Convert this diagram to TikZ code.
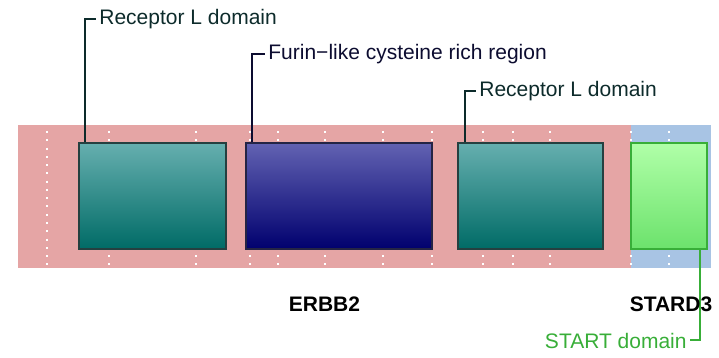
\documentclass[tikz,border=0pt]{standalone}
\usepackage{fontspec}
\setmainfont{Liberation Sans}
\definecolor{bandpink}{HTML}{E5A5A5}
\definecolor{bandblue}{HTML}{A8C4E4}
\definecolor{tealtop}{HTML}{66AFAF}
\definecolor{tealbot}{HTML}{006B66}
\definecolor{tealdark}{HTML}{0D2B2B}
\definecolor{navytop}{HTML}{6262B2}
\definecolor{navybot}{HTML}{00006E}
\definecolor{navydark}{HTML}{0C0C30}
\definecolor{greentop}{HTML}{B0FFA8}
\definecolor{greenbot}{HTML}{6CE26C}
\definecolor{greenline}{HTML}{38AE38}
\begin{document}
\begin{tikzpicture}[x=0.5pt, y=-0.5pt,
   every node/.style={font=\fontsize{10.5}{12}\selectfont, inner sep=1.5pt},
   dombox/.style={draw, line width=1pt, minimum height=53pt, inner sep=0pt},
   tealbox/.style={dombox, draw=tealdark!90, top color=tealtop, bottom color=tealbot},
   navybox/.style={dombox, draw=navydark!90, top color=navytop, bottom color=navybot},
   greenbox/.style={dombox, draw=greenline, top color=greentop, bottom color=greenbot},
   leader/.style={line width=1pt},
   gridline/.style={white, line width=1pt, dash pattern=on 1pt off 3.135pt},
   genelabel/.style={font=\fontsize{10.5}{12}\selectfont\bfseries}]
\useasboundingbox (0,0) rectangle (719,358);
% gene bands
\fill[bandpink] (18,125) rectangle (631,268);
\fill[bandblue] (631,125) rectangle (711,268);
\foreach \x in {47,109,196,250,278,325,383,432,483,513,550,631,669}
  \draw[gridline] (\x,131) -- (\x,266);
% domains
\node[tealbox, minimum width=73.5pt] (rl1) at (152.5,196) {};
\node[navybox, minimum width=93pt]   (fur) at (339,196) {};
\node[tealbox, minimum width=72.5pt] (rl2) at (530.5,196) {};
\node[greenbox, minimum width=38pt]  (sta) at (669,196) {};
% domain labels
\node[anchor=west, text=tealdark] (rl1lab) at (96,19) {Receptor L domain};
\node[anchor=west, text=navydark] (furlab) at (265,54) {Furin−like cysteine rich region};
\node[anchor=west, text=tealdark] (rl2lab) at (476,91) {Receptor L domain};
\node[anchor=east, text=greenline] (stalab) at (690,340.5) {START domain};
\draw[leader, tealdark] ([xshift=3.5pt]rl1.north west) |- (rl1lab.west);
\draw[leader, navydark] ([xshift=3.5pt]fur.north west) |- (furlab.west);
\draw[leader, tealdark] ([xshift=4pt]rl2.north west) |- (rl2lab.west);
\draw[leader, greenline] ([xshift=-4pt]sta.south east) |- (stalab.east);
% gene names
\node[genelabel] (erbb2) at (324.5,304) {ERBB2};
\node[genelabel] (stard3) at (671,304) {STARD3};
\end{tikzpicture}
\end{document}
